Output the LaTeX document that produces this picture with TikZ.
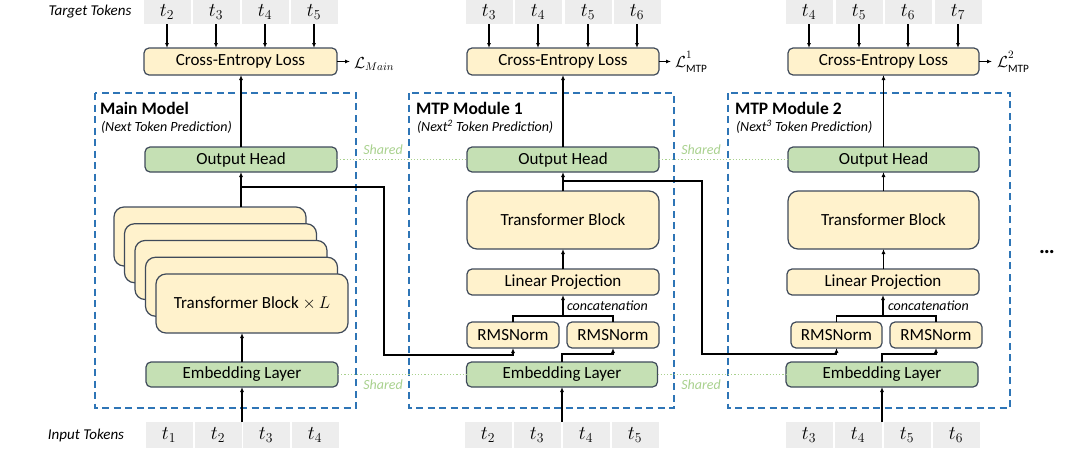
\RequirePackage{fix-cm}
\documentclass[tikz,border=0pt]{standalone}
\usepackage{fontspec}
\setmainfont{Carlito}
\usetikzlibrary{arrows.meta,calc}
\definecolor{yfill}{HTML}{FFF2CC}
\definecolor{gfill}{HTML}{C5E0B4}
\definecolor{bord}{HTML}{3F4A5A}
\definecolor{dashblue}{HTML}{2E75B6}
\definecolor{sharedgreen}{HTML}{A9D18E}
\definecolor{tokgray}{HTML}{EDEDED}
\newcommand{\boxfont}{\fontsize{17}{19}\selectfont}
\begin{document}
\begin{tikzpicture}[x=1pt,y=-1pt,
  every node/.style={inner sep=0pt, outer sep=0pt},
  ybox/.style={draw=bord, line width=1.2pt, fill=yfill, rounded corners=5pt, font=\boxfont, align=center},
  gbox/.style={draw=bord, line width=1.2pt, fill=gfill, rounded corners=5pt, font=\boxfont, align=center},
  stk/.style={draw=bord, line width=1.2pt, fill=yfill, rounded corners=10pt, minimum width=192pt, minimum height=59pt, font=\boxfont},
  tok/.style={fill=tokgray, minimum width=47pt, font=\fontsize{19.5}{21}\selectfont},
  dbox/.style={draw=dashblue, line width=1.5pt, dash pattern=on 7pt off 4.5pt},
  arr/.style={line width=1.1pt, -{Latex[length=5pt,width=4pt]}},
  ln/.style={line width=1.1pt},
  shline/.style={draw=sharedgreen, line width=1.2pt, dash pattern=on 1.2pt off 2pt},
  shtxt/.style={text=sharedgreen, font=\fontsize{14}{16}\selectfont\itshape},
  ttl/.style={anchor=west, font=\fontsize{17.5}{19}\selectfont\bfseries},
  sub/.style={anchor=west, font=\fontsize{14}{16}\selectfont\itshape},
  lbl/.style={font=\fontsize{15}{17}\selectfont\itshape},
  conc/.style={anchor=west, font=\fontsize{14}{16}\selectfont\itshape},
  loss/.style={anchor=west, font=\fontsize{16}{18}\selectfont}
]
\useasboundingbox (0,0) rectangle (1080,461);

% ---------- labels ----------
\node[lbl] (lt) at (90,12) {Target Tokens};
\node[lbl] (li) at (86,435) {Input Tokens};

% ---------- dashed module boxes ----------
\draw[dbox] (95,93) rectangle (356,408);
\draw[dbox] (409,93) rectangle (674,408);
\draw[dbox] (728,93) rectangle (1010,408);

\node[ttl] (t0) at (100,108) {Main Model};
\node[sub] (s0) at (101,127) {(Next Token Prediction)};
\node[ttl] (t1) at (416,108) {MTP Module 1};
\node[sub] (s1) at (417,127) {(Next\textsuperscript{2} Token Prediction)};
\node[ttl] (t2) at (735,108) {MTP Module 2};
\node[sub] (s2) at (736,127) {(Next\textsuperscript{3} Token Prediction)};

% ---------- target tokens ----------
\foreach \x/\t [count=\i] in {167/2,216/3,265/4,314/5}
  \node[tok, minimum height=24pt] (ta\i) at (\x,12) {$t_{\t}$};
\foreach \x/\t [count=\i] in {489/3,538/4,588/5,637/6}
  \node[tok, minimum height=24pt] (tb\i) at (\x,12) {$t_{\t}$};
\foreach \x/\t [count=\i] in {809/4,859/5,908/6,958/7}
  \node[tok, minimum height=24pt] (tc\i) at (\x,12) {$t_{\t}$};

% ---------- input tokens ----------
\foreach \x/\t [count=\i] in {169/1,218/2,266/3,315/4}
  \node[tok, minimum height=26pt] (ia\i) at (\x,435) {$t_{\t}$};
\foreach \x/\t [count=\i] in {488/2,537/3,586/4,635/5}
  \node[tok, minimum height=26pt] (ib\i) at (\x,435) {$t_{\t}$};
\foreach \x/\t [count=\i] in {809/3,858/4,907/5,956/6}
  \node[tok, minimum height=26pt] (ic\i) at (\x,435) {$t_{\t}$};

% ---------- cross entropy ----------
\node[ybox, minimum width=193pt, minimum height=27pt] (ce0) at (240.5,61.5) {Cross-Entropy Loss};
\node[ybox, minimum width=192pt, minimum height=27pt] (ce1) at (563,61.5) {Cross-Entropy Loss};
\node[ybox, minimum width=191pt, minimum height=27pt] (ce2) at (883.5,61.5) {Cross-Entropy Loss};

\foreach \i in {1,...,4} {
  \draw[arr] (ta\i.south) -- (ta\i.south |- ce0.north);
  \draw[arr] (tb\i.south) -- (tb\i.south |- ce1.north);
  \draw[arr] (tc\i.south) -- (tc\i.south |- ce2.north);
}

\coordinate (le0) at (350,61.5);
\coordinate (le1) at (671,61.5);
\coordinate (le2) at (992,61.5);
\draw[arr] (ce0.east) -- (le0);
\draw[arr] (ce1.east) -- (le1);
\draw[arr] (ce2.east) -- (le2);
\node[loss] (L0) at (354,64) {$\mathcal{L}_{Main}$};
\node[loss] (L1) at (675,62) {$\mathcal{L}^{\raisebox{3pt}{$\scriptstyle 1$}}_{\raisebox{-1.5pt}{$\scriptstyle\mathrm{MTP}$}}$};
\node[loss] (L2) at (997,62) {$\mathcal{L}^{\raisebox{3pt}{$\scriptstyle 2$}}_{\raisebox{-1.5pt}{$\scriptstyle\mathrm{MTP}$}}$};

% ---------- output heads ----------
\node[gbox, minimum width=192pt, minimum height=25pt] (oh0) at (241,159.5) {Output Head};
\node[gbox, minimum width=192pt, minimum height=25pt] (oh1) at (563,159.5) {Output Head};
\node[gbox, minimum width=191pt, minimum height=25pt] (oh2) at (883.5,159.5) {Output Head};

\draw[arr] (oh0.north) -- (oh0.north |- ce0.south);
\draw[arr] (oh1.north) -- (oh1.north |- ce1.south);
\draw[arr] (oh2.north) -- (oh2.north |- ce2.south);

% ---------- main model transformer stack ----------
\foreach \i in {0,...,3}
  \node[stk, anchor=north west] (stk\i) at ({114+10.5*\i},{207+16.75*\i}) {};
\node[stk, anchor=north west] (tb0) at (156,274) {Transformer Block $\times\, L$};

% ---------- embeddings ----------
\node[gbox, minimum width=192pt, minimum height=25pt] (emb0) at (242,374.5) {Embedding Layer};
\node[gbox, minimum width=191pt, minimum height=25pt] (emb1) at (562,374.5) {Embedding Layer};
\node[gbox, minimum width=192pt, minimum height=25pt] (emb2) at (882,374.5) {Embedding Layer};

% ---------- MTP blocks ----------
\node[ybox, rounded corners=10pt, minimum width=192pt, minimum height=58pt] (tf1) at (563,220) {Transformer Block};
\node[ybox, rounded corners=10pt, minimum width=191pt, minimum height=58pt] (tf2) at (883.5,220) {Transformer Block};
\node[ybox, minimum width=192pt, minimum height=26pt] (lp1) at (563,282) {Linear Projection};
\node[ybox, minimum width=192pt, minimum height=26pt] (lp2) at (883,282) {Linear Projection};
\node[ybox, minimum width=92pt, minimum height=26pt] (r1a) at (513,335) {RMSNorm};
\node[ybox, minimum width=92pt, minimum height=26pt] (r1b) at (613,335) {RMSNorm};
\node[ybox, minimum width=91pt, minimum height=26pt] (r2a) at (836.5,335) {RMSNorm};
\node[ybox, minimum width=92pt, minimum height=26pt] (r2b) at (936,335) {RMSNorm};

% ---------- input feeds ----------
\coordinate (in0) at (242,422);
\coordinate (in1) at (562,422);
\coordinate (in2) at (882,422);
\draw[arr] (in0) -- (emb0.south);
\draw[arr] (in1) -- (emb1.south);
\draw[arr] (in2) -- (emb2.south);

% ---------- main model connectors ----------
\draw[arr] (emb0.north) -- (emb0.north |- tb0.south);
\draw[arr] (stk0.north -| oh0.south) -- (oh0.south);

% branch main -> MTP1
\coordinate (b0) at (241,187);
\draw[arr] (b0) -- (384,187) -- (384,355) -- (r1a.south |- 0,355) -- (r1a.south);

% ---------- MTP1 connectors ----------
\draw[ln] (r1a.north) -- (r1a.north |- 0,316) -- (r1b.north |- 0,316) -- (r1b.north);
\coordinate (c1) at (563,316);
\draw[arr] (c1) -- (lp1.south);
\node[conc] (cc1) at (567,305.5) {concatenation};
\draw[arr] (emb1.north) -- (562,354) -- (r1b.south |- 0,354) -- (r1b.south);
\draw[arr] (lp1.north) -- (tf1.south);
\draw[arr] (tf1.north) -- (oh1.south);
\coordinate (b1) at (563,181);
\draw[arr] (b1) -- (702,181) -- (702,354) -- (r2a.south |- 0,354) -- (r2a.south);

% ---------- MTP2 connectors ----------
\draw[ln] (r2a.north) -- (r2a.north |- 0,316) -- (r2b.north |- 0,316) -- (r2b.north);
\coordinate (c2) at (883,316);
\draw[arr] (c2) -- (lp2.south);
\node[conc] (cc2) at (888,305.5) {concatenation};
\draw[arr] (emb2.north) -- (882,354) -- (r2b.south |- 0,354) -- (r2b.south);
\draw[arr] (lp2.north -| tf2.south) -- (tf2.south);
\draw[arr] (tf2.north) -- (oh2.south);

% ---------- shared ----------
\draw[shline] (oh0.east) -- (oh1.west);
\draw[shline] (oh1.east) -- (oh2.west);
\draw[shline] (emb0.east) -- (emb1.west);
\draw[shline] (emb1.east) -- (emb2.west);
\node[shtxt] (sh1) at (383,150) {Shared};
\node[shtxt] (sh2) at (701,150) {Shared};
\node[shtxt] (sh3) at (383,384.5) {Shared};
\node[shtxt] (sh4) at (701,385) {Shared};

% ---------- dots ----------
\node[font=\fontsize{22}{24}\selectfont\bfseries] (dots) at (1047,252) {\symbol{"2026}};
\end{tikzpicture}
\end{document}
